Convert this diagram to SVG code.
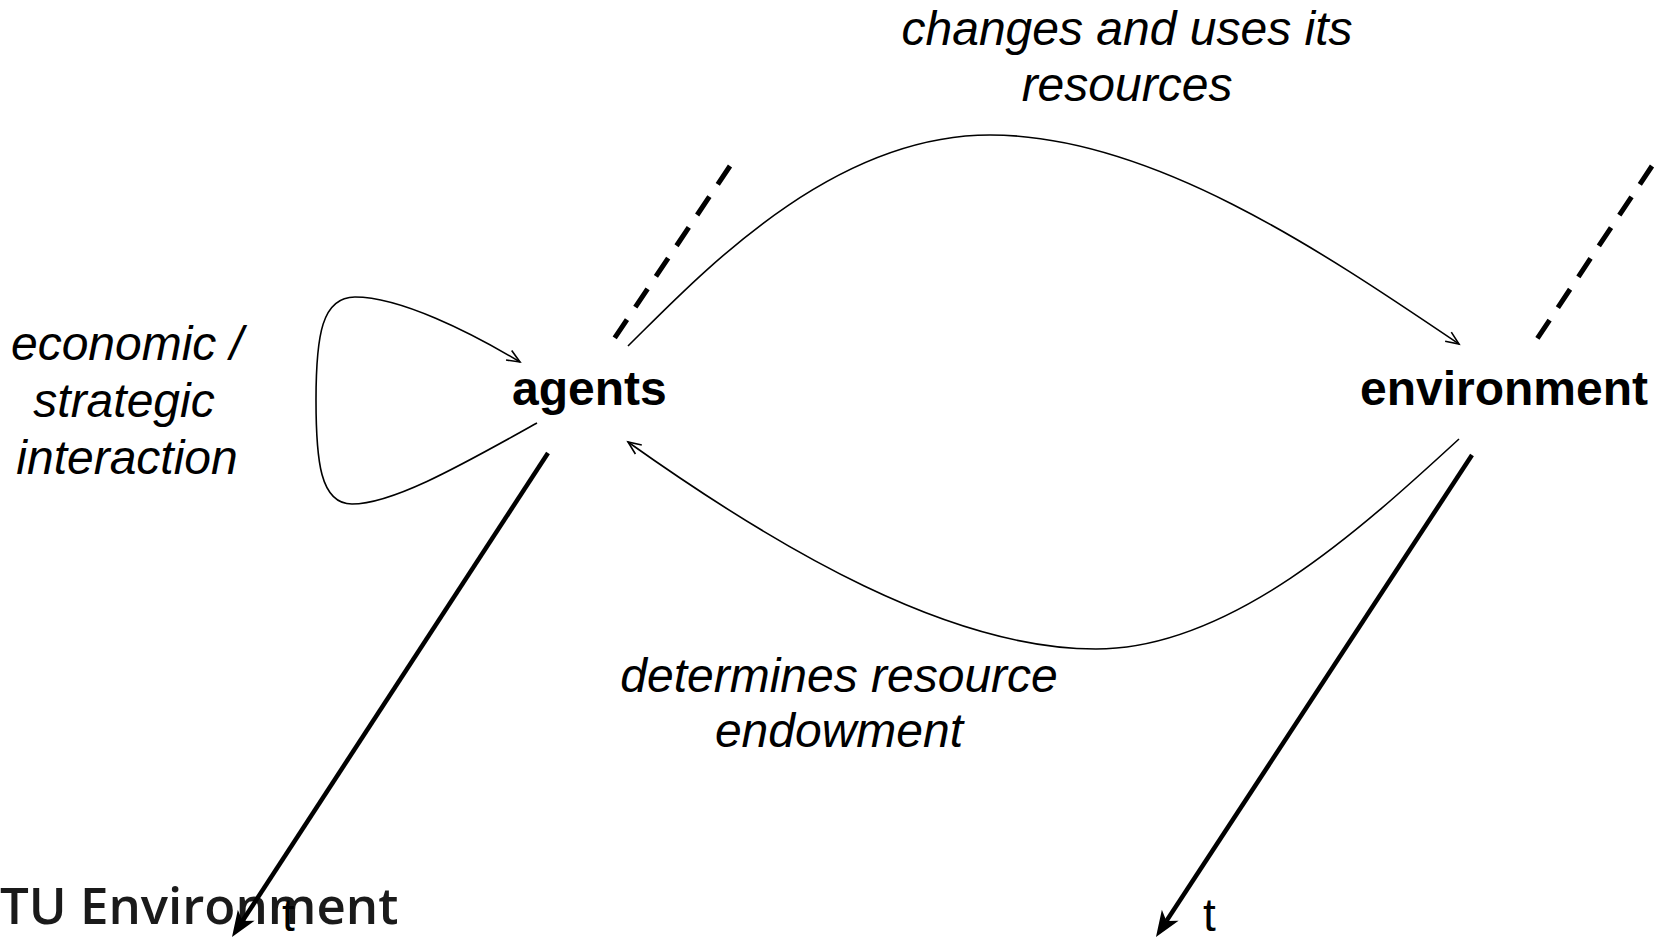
<svg xmlns="http://www.w3.org/2000/svg" width="1660" height="939" viewBox="0 0 1660 939">
<style>
.lbl{font-family:"Liberation Sans",Arial,sans-serif;font-style:italic;font-size:48px;fill:#000;text-anchor:middle}
.node{font-family:"Liberation Sans",Arial,sans-serif;font-weight:bold;font-size:48px;fill:#000}
.t{font-family:"Liberation Sans",Arial,sans-serif;font-size:46px;fill:#000}
.thin{fill:none;stroke:#000;stroke-width:1.6}
.thick{fill:none;stroke:#000;stroke-width:4.5}
.dash{fill:none;stroke:#000;stroke-width:5;stroke-dasharray:22 15}
</style>
<defs>
<marker id="open" markerUnits="userSpaceOnUse" markerWidth="20" markerHeight="14" refX="13" refY="5.5" orient="auto" overflow="visible">
<path d="M0,0 L13,5.5 L0,11" fill="none" stroke="#000" stroke-width="1.6"/>
</marker>
<marker id="stealth" markerUnits="userSpaceOnUse" markerWidth="30" markerHeight="22" refX="7" refY="10" orient="auto" overflow="visible">
<path d="M26,10 L0,0 L7,10 L0,20 Z" fill="#000"/>
</marker>
</defs>
<rect width="1660" height="939" fill="#fff"/>
<g id="footer">
<text x="0" y="924" style="font-family:'Open Sans','DejaVu Sans',sans-serif;font-weight:600;font-size:51px;fill:#1a1a1a">TU Environment</text>
</g>
<g id="connectors">
<path class="thin" d="M628,346 C700,275 830,135 990,135 C1150,135 1320,250 1459,344" marker-end="url(#open)"/>
<path class="thin" d="M1459,439 C1360,530 1230,649 1096,649 C950,649 780,550 628,442" marker-end="url(#open)"/>
<path class="thin" d="M537,423 C470,460 395,504 352,504 C320,504 316,460 316,400 C316,335 322,297 355,297 C400,297 470,332 520,362" marker-end="url(#open)"/>
<line class="thick" x1="548" y1="453" x2="242.4" y2="921.1" marker-end="url(#stealth)"/>
<line class="thick" x1="1472" y1="455" x2="1166.4" y2="921.1" marker-end="url(#stealth)"/>
<line class="dash" x1="730" y1="166" x2="614" y2="339"/>
<line class="dash" x1="1652" y1="166" x2="1537" y2="339"/>
</g>
<g id="agents"><text class="node" x="512" y="405">agents</text></g>
<g id="environment"><text class="node" x="1360" y="405">environment</text></g>
<g id="label-top">
<text class="lbl" x="1127" y="45">changes and uses its</text>
<text class="lbl" x="1127" y="101">resources</text>
</g>
<g id="label-bottom">
<text class="lbl" x="839" y="692">determines resource</text>
<text class="lbl" x="839" y="747">endowment</text>
</g>
<g id="label-left">
<text class="lbl" x="127" y="360">economic /</text>
<text class="lbl" x="124" y="417">strategic</text>
<text class="lbl" x="127" y="474">interaction</text>
</g>
<g id="t-labels">
<text class="t" x="282" y="931">t</text>
<text class="t" x="1203" y="931">t</text>
</g>
</svg>
